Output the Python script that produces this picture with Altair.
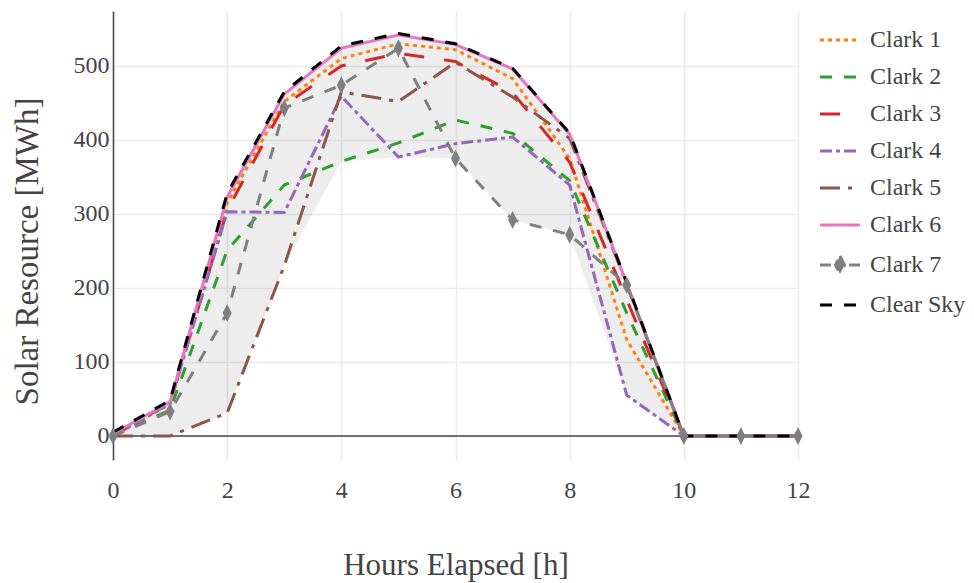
import altair as alt
import pandas as pd

FONT = "Liberation Serif"
TXT = "#444444"

hours = list(range(13))
series_names = ["Clark 1", "Clark 2", "Clark 3", "Clark 4", "Clark 5", "Clark 6", "Clark 7", "Clear Sky"]
clark1 = [0, 43, 315, 452, 510, 530, 522, 483, 375, 130, 0, 0, 0]
clark2 = [0, 35, 251, 339, 371, 396, 427, 409, 345, 166, 0, 0, 0]
clark3 = [0, 45, 305, 447, 500, 517, 506, 464, 370, 184, 0, 0, 0]
clark4 = [0, 44, 303, 302, 459, 377, 395, 404, 339, 55, 0, 0, 0]
clark5 = [0, 0, 31, 230, 465, 452, 505, 458, 402, 205, 0, 0, 0]
clark6 = [3, 46, 323, 462, 524, 542, 529, 496, 408, 206, 0, 0, 0]
clark7 = [0, 33, 166, 443, 474, 524, 375, 292, 272, 204, 0, 0, 0]
clear_sky = [5, 48, 328, 465, 527, 544, 530, 497, 409, 207, 0, 0, 0]

colors = ["#ff7f0e", "#2ca02c", "#d62728", "#9467bd", "#8c564b", "#e377c2", "#7f7f7f", "#000000"]
dashes = [[4, 4], [12, 12], [20, 20], [12, 4, 4, 4], [20, 8, 4, 8], [1, 0], [12, 12], [12, 12]]

LINE_SYM = "M-2,0L2,0"
DIAMOND_SYM = "M-2,0L-0.9,0M0.9,0L2,0M0,-0.9L0.45,0L0,0.9L-0.45,0Z"
shapes = [LINE_SYM] * 6 + [DIAMOND_SYM, LINE_SYM]

all_series = [clark1, clark2, clark3, clark4, clark5, clark6, clark7, clear_sky]

rows = []
for name, vals in zip(series_names, all_series):
    for h, v in zip(hours, vals):
        rows.append({"hour": h, "value": v, "series": name})
df = pd.DataFrame(rows)

clarks = all_series[:7]
band = pd.DataFrame({
    "hour": hours,
    "lo": [min(s[i] for s in clarks) for i in range(len(hours))],
    "hi": [max(s[i] for s in clarks) for i in range(len(hours))],
})

xscale = alt.Scale(domain=[0, 12], nice=False, zero=False)
yscale = alt.Scale(domain=[-32.5, 574.3], nice=False, zero=False)

xaxis = alt.Axis(
    values=[0, 2, 4, 6, 8, 10, 12], format="d", grid=True, gridColor="#ebebeb", gridWidth=1.5,
    domain=False, ticks=False, labelFont=FONT, labelFontSize=24, labelColor=TXT,
    labelPadding=18, labelFlush=False, labelOverlap=False,
    title="Hours Elapsed [h]", titleFont=FONT, titleFontSize=31,
    titleFontWeight="normal", titleColor=TXT, titleX=342.5, titleY=114,
    titleAlign="center", titleBaseline="alphabetic",
)
yaxis = alt.Axis(
    values=[0, 100, 200, 300, 400, 500], format="d", grid=True, gridColor="#ebebeb", gridWidth=1.5,
    domain=True, domainColor="#444444", domainWidth=1.5, ticks=False,
    labelFont=FONT, labelFontSize=24, labelColor=TXT, labelPadding=4,
    labelFlush=False, labelOverlap=False,
    title="Solar Resource [MWh]", titleFont=FONT, titleFontSize=33,
    titleFontWeight="normal", titleColor=TXT, titleAngle=270, titleX=-76, titleY=240,
    titleAlign="center", titleBaseline="alphabetic",
)

legend = alt.Legend(
    title=None, orient="none", legendX=715, legendY=17,
    symbolType=LINE_SYM, symbolSize=400, symbolStrokeWidth=3,
    symbolFillColor="#7f7f7f",
    labelFont=FONT, labelFontSize=24, labelColor=TXT, labelOffset=18,
    rowPadding=13, labelLimit=300,
)

area = alt.Chart(band).mark_area(color="#000000", opacity=0.07).encode(
    x=alt.X("hour:Q", scale=xscale, axis=xaxis),
    y=alt.Y("lo:Q", scale=yscale, axis=yaxis),
    y2="hi:Q",
)

zero = alt.Chart(pd.DataFrame({"z": [0]})).mark_rule(color="#444444", strokeWidth=1.5).encode(
    y=alt.Y("z:Q", scale=yscale),
)

lines = alt.Chart(df).mark_line(strokeWidth=3).encode(
    x=alt.X("hour:Q", scale=xscale),
    y=alt.Y("value:Q", scale=yscale),
    color=alt.Color("series:N", scale=alt.Scale(domain=series_names, range=colors), legend=legend),
    strokeDash=alt.StrokeDash("series:N", scale=alt.Scale(domain=series_names, range=dashes), legend=legend),
    order=alt.Order("hour:Q"),
)

pts = alt.Chart(df[df["series"] == "Clark 7"]).mark_point(
    filled=True, size=400, color="#7f7f7f", opacity=1,
).encode(
    x=alt.X("hour:Q", scale=xscale),
    y=alt.Y("value:Q", scale=yscale),
    shape=alt.Shape("series:N", scale=alt.Scale(domain=series_names, range=shapes), legend=legend),
)

chart = alt.layer(area, zero, lines, pts).properties(
    width=685, height=449,
    autosize=alt.AutoSizeParams(type="none"),
    padding={"left": 105, "top": 3, "right": 168, "bottom": 123},
    background="white",
).configure_view(stroke=None)

chart.save("out.html", embed_options={"renderer": "svg", "actions": False})
